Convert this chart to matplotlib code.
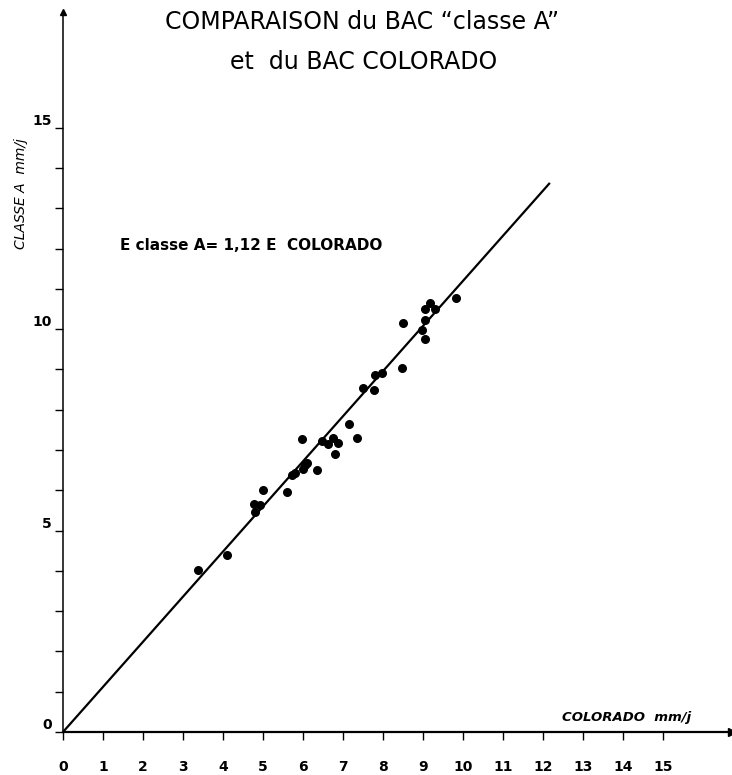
import numpy as np
import matplotlib
matplotlib.use("Agg")
import matplotlib.pyplot as plt

# Evaporation journaliere (mm/j) : bac Colorado (x) et bac classe A (y)
colorado = [3.38, 4.09, 4.78, 4.93, 4.80, 5.01, 5.61, 5.72, 5.80, 5.97, 5.99,
            6.05, 6.09, 6.36, 6.47, 6.63, 6.76, 6.88, 6.80, 7.16, 7.34, 7.49,
            7.78, 7.80, 7.97, 8.47, 8.49, 8.97, 9.05, 9.05, 9.05, 9.16, 9.30,
            9.83]
classe_a = [4.02, 4.39, 5.67, 5.63, 5.47, 6.00, 5.96, 6.38, 6.43, 7.26, 6.52,
            6.63, 6.68, 6.50, 7.22, 7.14, 7.30, 7.18, 6.90, 7.64, 7.30, 8.55,
            8.49, 8.86, 8.92, 9.04, 10.14, 9.98, 10.22, 9.75, 10.49, 10.65, 10.49,
            10.78]

coef = 1.12          # E classe A = 1,12 E COLORADO
x_fin = 12.15        # fin de la droite tracee

x_ticks = list(range(0, 16))
y_ticks_lab = [0, 5, 10, 15]

fig = plt.figure(figsize=(7.32, 7.75), dpi=100)
ax = fig.add_axes([63 / 732, 43 / 775, (732 - 63) / 732, (732 - 12) / 775])
ax.set_xlim(0, 16.72)
ax.set_ylim(0, 17.87)

# droite de regression
xr = np.array([0, x_fin])
ax.plot(xr, coef * xr, color="black", lw=1.6)

# points de mesure
ax.scatter(colorado, classe_a, s=30, color="black", zorder=3)

# axes facon dessin technique
for s in ["top", "right"]:
    ax.spines[s].set_visible(False)
ax.spines["bottom"].set_linewidth(1.6)
ax.spines["left"].set_linewidth(1.1)
ax.plot(1, 0, ">k", markersize=6, transform=ax.transAxes, clip_on=False)
ax.plot(0, 1, "^k", markersize=5, transform=ax.transAxes, clip_on=False)

ax.set_xticks(x_ticks)
ax.set_xticklabels([str(v) for v in x_ticks], fontsize=10, fontweight="bold")
ax.set_yticks(y_ticks_lab)
ax.set_yticklabels([str(v) for v in y_ticks_lab], fontsize=10, fontweight="bold")
ax.set_yticks(range(0, 16), minor=True)
ax.tick_params(axis="x", direction="out", length=6, width=1, pad=14)
ax.tick_params(axis="y", which="both", direction="out", length=6, width=1, pad=2)
for lab in ax.get_yticklabels():
    lab.set_verticalalignment("bottom")

# textes
fig.text(0.495, 0.972, "COMPARAISON du BAC \u201cclasse A\u201d", ha="center",
         va="center", fontsize=17)
fig.text(0.497, 0.920, "et  du BAC COLORADO", ha="center", va="center",
         fontsize=17)
fig.text(120 / 732, 1 - 245 / 775, "E classe A= 1,12 E  COLORADO", ha="left",
         va="center", fontsize=11, fontweight="bold")
fig.text(21 / 732, 1 - 194 / 775, "CLASSE A  mm/j", rotation=90, ha="center",
         va="center", fontsize=10, fontstyle="italic")
fig.text(627 / 732, 1 - 717 / 775, "COLORADO  mm/j", ha="center", va="center",
         fontsize=9.5, fontstyle="italic", fontweight="bold")

fig.savefig("out.png", dpi=100, facecolor="white")
